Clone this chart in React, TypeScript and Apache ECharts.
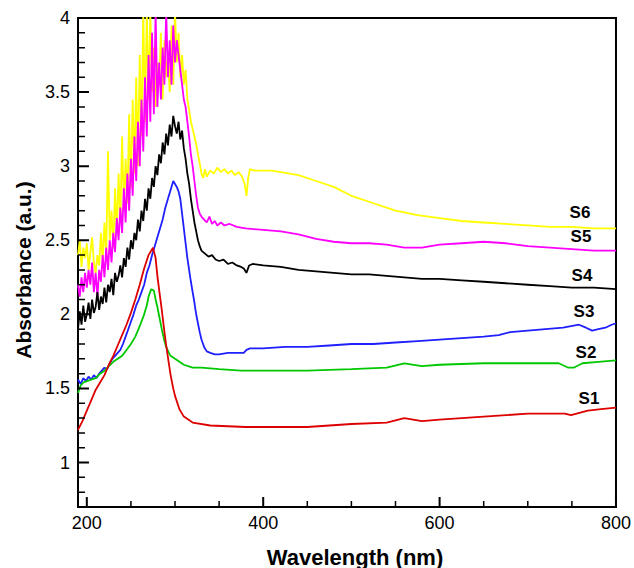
import React, { useEffect, useRef } from "react";
import * as echarts from "echarts";

const X_MIN = 190;
const X_MAX = 800;
const Y_MIN = 0.7;
const Y_MAX = 4;

const xMajorTicks = [200, 400, 600, 800];
const xMinorTicks = [250, 300, 350, 450, 500, 550, 650, 700, 750];
const yMajorTicks = [1, 1.5, 2, 2.5, 3, 3.5, 4];
const yMinorTicks = [0.8, 0.9, 1.1, 1.2, 1.3, 1.4, 1.6, 1.7, 1.8, 1.9, 2.1, 2.2, 2.3, 2.4, 2.6, 2.7, 2.8, 2.9, 3.1, 3.2, 3.3, 3.4, 3.6, 3.7, 3.8, 3.9];

const seriesNames = ["S6", "S5", "S4", "S3", "S2", "S1"];
const seriesColors = ["#ffff00", "#ff00ff", "#000000", "#1f1fff", "#00c800", "#dd0000"];

const s6: number[][] = [
  [190, 2.4], [192, 2.5], [194, 2.32], [196, 2.45], [198, 2.38], [200, 2.48], [202, 2.3], [204, 2.42], [206, 2.52], [208, 2.35],
  [210, 2.28], [212, 2.4], [214, 2.33], [216, 2.55], [218, 2.36], [220, 2.62], [222, 2.4], [224, 3.1], [226, 2.5], [228, 2.7],
  [230, 2.45], [232, 2.85], [234, 2.55], [236, 2.95], [238, 2.62], [240, 3.2], [242, 2.7], [244, 3.05], [246, 2.75], [248, 3.35],
  [250, 2.85], [252, 3.45], [254, 2.95], [256, 3.6], [258, 3.0], [260, 3.75], [262, 3.2], [264, 4.05], [266, 3.3], [268, 4.05],
  [270, 3.45], [272, 4.05], [274, 3.5], [276, 3.8], [278, 3.4], [280, 3.7], [282, 3.55], [284, 3.9], [286, 3.45], [288, 3.85],
  [290, 3.6], [292, 3.75], [294, 3.5], [296, 3.95], [298, 3.55], [300, 4.05], [302, 3.7], [304, 3.9], [306, 3.6], [308, 3.75],
  [310, 3.55], [312, 3.65], [314, 3.45], [316, 3.38], [318, 3.3], [320, 3.25], [322, 3.2], [324, 3.15], [326, 3.08], [328, 3.02],
  [330, 2.95], [332, 2.92], [334, 2.98], [336, 2.93], [340, 2.97], [344, 2.95], [348, 2.99], [352, 2.96], [356, 2.98], [360, 2.95],
  [364, 2.97], [368, 2.94], [372, 2.96], [376, 2.93], [379, 2.88], [381, 2.8], [383, 2.92], [385, 2.98], [390, 2.97], [400, 2.97],
  [410, 2.97], [420, 2.96], [440, 2.94], [460, 2.9], [480, 2.86], [500, 2.8], [520, 2.76], [550, 2.7], [575, 2.67], [600, 2.65],
  [625, 2.63], [650, 2.62], [675, 2.61], [700, 2.6], [725, 2.59], [750, 2.59], [775, 2.58], [800, 2.58]
];

const s5: number[][] = [
  [190, 2.2], [192, 2.12], [194, 2.25], [196, 2.15], [198, 2.28], [200, 2.18], [202, 2.3], [204, 2.2], [206, 2.35], [208, 2.15],
  [210, 2.28], [212, 2.12], [214, 2.3], [216, 2.22], [218, 2.4], [220, 2.25], [222, 2.45], [224, 2.3], [226, 2.5], [228, 2.35],
  [230, 2.55], [232, 2.42], [234, 2.65], [236, 2.5], [238, 2.72], [240, 2.55], [242, 2.85], [244, 2.62], [246, 2.95], [248, 2.7],
  [250, 3.05], [252, 2.8], [254, 3.2], [256, 2.9], [258, 3.3], [260, 3.0], [262, 3.45], [264, 3.1], [266, 3.6], [268, 3.2],
  [270, 3.75], [272, 3.3], [274, 3.9], [276, 3.35], [278, 4.05], [280, 3.4], [282, 3.7], [284, 3.45], [286, 3.8], [288, 3.55],
  [290, 4.05], [292, 3.6], [294, 3.85], [296, 3.55], [298, 3.95], [300, 3.7], [302, 3.85], [304, 3.75], [306, 3.65], [308, 3.55],
  [310, 3.45], [312, 3.4], [314, 3.3], [316, 3.2], [318, 3.08], [320, 3.0], [322, 2.9], [324, 2.8], [326, 2.72], [328, 2.68],
  [330, 2.66], [333, 2.64], [336, 2.62], [339, 2.66], [342, 2.61], [345, 2.63], [348, 2.6], [352, 2.62], [356, 2.6], [362, 2.61],
  [370, 2.59], [380, 2.58], [400, 2.57], [420, 2.56], [440, 2.54], [460, 2.51], [480, 2.49], [500, 2.48], [520, 2.48], [540, 2.47],
  [560, 2.45], [580, 2.45], [600, 2.47], [625, 2.48], [650, 2.49], [675, 2.48], [700, 2.46], [725, 2.45], [750, 2.44], [775, 2.43],
  [800, 2.43]
];

const s4: number[][] = [
  [190, 1.9], [192, 2.02], [194, 1.93], [196, 2.06], [198, 1.95], [200, 2.0], [202, 2.08], [204, 1.97], [206, 2.1], [208, 2.01],
  [210, 2.05], [212, 2.15], [214, 2.03], [216, 2.12], [218, 2.07], [220, 2.18], [222, 2.08], [224, 2.2], [226, 2.15], [228, 2.24],
  [230, 2.13], [232, 2.28], [234, 2.22], [236, 2.26], [238, 2.33], [240, 2.25], [242, 2.38], [244, 2.32], [246, 2.45], [248, 2.37],
  [250, 2.5], [252, 2.44], [254, 2.55], [256, 2.5], [258, 2.64], [260, 2.56], [262, 2.7], [264, 2.63], [266, 2.78], [268, 2.7],
  [270, 2.85], [272, 2.78], [274, 2.92], [276, 2.86], [278, 3.0], [280, 2.94], [282, 3.08], [284, 3.02], [286, 3.16], [288, 3.08],
  [290, 3.22], [292, 3.14], [294, 3.28], [296, 3.2], [298, 3.34], [300, 3.27], [302, 3.22], [304, 3.3], [306, 3.18], [308, 3.24],
  [310, 3.12], [312, 3.05], [314, 2.95], [316, 2.88], [318, 2.78], [320, 2.7], [322, 2.62], [324, 2.56], [326, 2.5], [328, 2.46],
  [330, 2.43], [334, 2.41], [338, 2.39], [342, 2.4], [346, 2.37], [350, 2.36], [355, 2.37], [360, 2.34], [365, 2.35], [370, 2.33],
  [375, 2.32], [378, 2.31], [381, 2.28], [384, 2.33], [388, 2.34], [400, 2.33], [420, 2.32], [440, 2.3], [460, 2.29], [480, 2.28],
  [500, 2.27], [520, 2.27], [540, 2.26], [560, 2.25], [580, 2.24], [600, 2.24], [625, 2.23], [650, 2.22], [675, 2.21], [700, 2.2],
  [725, 2.19], [750, 2.18], [775, 2.18], [800, 2.17]
];

const s3: number[][] = [
  [190, 1.56], [193, 1.53], [196, 1.57], [199, 1.55], [202, 1.58], [205, 1.56], [208, 1.59], [211, 1.57], [214, 1.6], [217, 1.62],
  [220, 1.64], [223, 1.63], [226, 1.67], [229, 1.7], [232, 1.72], [235, 1.74], [238, 1.76], [241, 1.8], [244, 1.85], [247, 1.9],
  [250, 1.95], [253, 2.0], [256, 2.06], [259, 2.1], [262, 2.15], [265, 2.2], [268, 2.28], [271, 2.33], [274, 2.4], [277, 2.46],
  [280, 2.52], [283, 2.58], [286, 2.64], [289, 2.72], [292, 2.78], [295, 2.84], [298, 2.9], [300, 2.88], [302, 2.86], [304, 2.83],
  [306, 2.78], [308, 2.68], [310, 2.58], [312, 2.48], [314, 2.38], [316, 2.3], [318, 2.22], [320, 2.15], [322, 2.08], [324, 2.0],
  [326, 1.94], [328, 1.88], [330, 1.83], [333, 1.78], [336, 1.75], [340, 1.74], [345, 1.73], [350, 1.73], [360, 1.74], [370, 1.74],
  [378, 1.74], [381, 1.76], [385, 1.77], [400, 1.77], [425, 1.78], [450, 1.78], [475, 1.79], [500, 1.8], [525, 1.8], [550, 1.81],
  [575, 1.82], [600, 1.83], [625, 1.84], [650, 1.85], [667, 1.86], [680, 1.88], [700, 1.89], [720, 1.9], [740, 1.91], [758, 1.93],
  [766, 1.91], [773, 1.89], [780, 1.9], [788, 1.91], [795, 1.93], [800, 1.94]
];

const s2: number[][] = [
  [190, 1.47], [193, 1.52], [196, 1.54], [200, 1.55], [205, 1.56], [210, 1.57], [215, 1.6], [220, 1.62], [225, 1.65], [230, 1.68],
  [235, 1.7], [240, 1.72], [245, 1.76], [250, 1.8], [255, 1.85], [260, 1.92], [265, 2.0], [268, 2.06], [270, 2.12], [273, 2.17],
  [276, 2.16], [278, 2.1], [280, 2.05], [283, 1.96], [285, 1.9], [288, 1.82], [290, 1.78], [293, 1.74], [295, 1.72], [300, 1.7],
  [305, 1.68], [310, 1.66], [320, 1.64], [330, 1.64], [350, 1.63], [375, 1.62], [400, 1.62], [450, 1.62], [500, 1.63], [540, 1.64],
  [560, 1.67], [580, 1.65], [600, 1.66], [650, 1.67], [700, 1.67], [735, 1.67], [746, 1.64], [752, 1.64], [762, 1.67], [780, 1.68],
  [800, 1.69]
];

const s1: number[][] = [
  [190, 1.22], [195, 1.28], [200, 1.35], [205, 1.42], [210, 1.49], [215, 1.54], [220, 1.59], [225, 1.66], [230, 1.72], [235, 1.79],
  [240, 1.86], [245, 1.93], [250, 2.01], [255, 2.1], [260, 2.2], [265, 2.31], [270, 2.4], [275, 2.45], [278, 2.38], [280, 2.26],
  [283, 2.12], [285, 2.03], [288, 1.88], [290, 1.79], [293, 1.67], [295, 1.59], [298, 1.5], [300, 1.45], [305, 1.36], [310, 1.31],
  [320, 1.27], [340, 1.25], [380, 1.24], [400, 1.24], [450, 1.24], [500, 1.26], [540, 1.27], [560, 1.3], [580, 1.28], [600, 1.29],
  [650, 1.31], [700, 1.33], [742, 1.33], [749, 1.32], [768, 1.35], [783, 1.36], [800, 1.37]
];

const seriesData = [s6, s5, s4, s3, s2, s1];

const labelPositions = [
  [580, 212], [581, 236], [582, 275], [584, 311], [586, 352], [589, 398]
];

const FONT = "'Liberation Sans', Arial, sans-serif";

// tick lengths expressed in axis units (plot is 610 nm over 539 px, 3.3 units over 489 px)
const X_UNITS_PER_PX = (X_MAX - X_MIN) / 539;
const Y_UNITS_PER_PX = (Y_MAX - Y_MIN) / 489;

function xTickData(vals: number[], lenPx: number): any[] {
  const out: any[] = [];
  vals.forEach((v) => {
    out.push([v, Y_MIN], [v, Y_MIN + lenPx * Y_UNITS_PER_PX], "-");
  });
  return out;
}
function yTickData(vals: number[], lenPx: number): any[] {
  const out: any[] = [];
  vals.forEach((v) => {
    out.push([X_MIN, v], [X_MIN + lenPx * X_UNITS_PER_PX, v], "-");
  });
  return out;
}

function tickSeries(data: any[], width: number) {
  return {
    type: "line",
    data,
    showSymbol: false,
    symbol: "none",
    connectNulls: false,
    silent: true,
    clip: false,
    z: 5,
    lineStyle: { color: "#000", width },
  };
}

export default function App() {
  const ref = useRef<HTMLDivElement>(null);
  useEffect(() => {
    if (!ref.current) return;
    const chart = echarts.init(ref.current, null, { renderer: "svg" });
    chart.setOption({
      animation: false,
      grid: {
        left: 78, right: 17, top: 18, bottom: 61,
        show: true, borderColor: "#000", borderWidth: 2,
      },
      xAxis: {
        type: "value", min: X_MIN, max: X_MAX,
        splitLine: { show: false },
        axisLine: { show: true, lineStyle: { color: "#000", width: 2 } },
        axisTick: { show: false },
        axisLabel: {
          color: "#000", fontSize: 18, fontFamily: FONT, margin: 7,
          formatter: (v: number) => (xMajorTicks.indexOf(v) >= 0 ? String(v) : ""),
        },
      },
      yAxis: {
        type: "value", min: Y_MIN, max: Y_MAX,
        splitLine: { show: false },
        axisLine: { show: true, lineStyle: { color: "#000", width: 2 } },
        axisTick: { show: false },
        axisLabel: {
          color: "#000", fontSize: 18, fontFamily: FONT, margin: 8, showMinLabel: false,
          formatter: (v: number) => (yMajorTicks.indexOf(v) >= 0 ? String(v) : ""),
        },
      },
      series: [
        ...seriesData.map((d, i) => ({
          name: seriesNames[i],
          type: "line",
          data: d,
          showSymbol: false,
          symbol: "none",
          lineStyle: { color: seriesColors[i], width: 1.8 },
          itemStyle: { color: seriesColors[i] },
        })),
        tickSeries(xTickData(xMajorTicks, 10), 2),
        tickSeries(xTickData(xMinorTicks, 6), 1.5),
        tickSeries(yTickData(yMajorTicks, 11), 2),
        tickSeries(yTickData(yMinorTicks, 7), 1.5),
      ],
      graphic: [
        ...seriesNames.map((n, i) => ({
          type: "text",
          x: labelPositions[i][0],
          y: labelPositions[i][1],
          style: {
            text: n, fill: "#000", font: `bold 17px ${FONT}`,
            textAlign: "center", textVerticalAlign: "middle",
          },
        })),
        {
          type: "text", x: 355, y: 557,
          style: { text: "Wavelength (nm)", fill: "#000", font: `bold 22px ${FONT}`, textAlign: "center", textVerticalAlign: "middle" },
        },
        {
          type: "text", x: 23, y: 270, rotation: Math.PI / 2,
          style: { text: "Absorbance (a.u.)", fill: "#000", font: `bold 21px ${FONT}`, textAlign: "center", textVerticalAlign: "middle" },
        },
      ],
    });
    return () => chart.dispose();
  }, []);
  return <div ref={ref} style={{ position: "absolute", left: 0, top: 0, width: 634, height: 568 }} />;
}
